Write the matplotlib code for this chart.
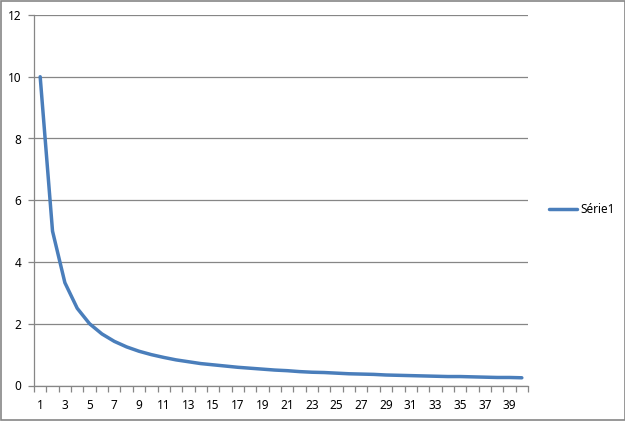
import matplotlib.pyplot as plt
import numpy as np
from matplotlib.patches import Rectangle

# values (categories 1..40)
categories = list(range(1, 41))
serie1 = [10.0, 5.0, 3.33, 2.5, 2.0, 1.67, 1.43, 1.25, 1.11, 1.0,
          0.91, 0.83, 0.77, 0.71, 0.67, 0.63, 0.59, 0.56, 0.53, 0.5,
          0.48, 0.45, 0.43, 0.42, 0.4, 0.38, 0.37, 0.36, 0.34, 0.33,
          0.32, 0.31, 0.3, 0.29, 0.29, 0.28, 0.27, 0.26, 0.26, 0.25]
series_name = 'Série1'
y_ticks = [0, 2, 4, 6, 8, 10, 12]
x_labels = [c for c in categories if c % 2 == 1]

plt.rcParams['font.family'] = ['Noto Sans', 'DejaVu Sans']
plt.rcParams['font.size'] = 8.5

fig = plt.figure(figsize=(6.25, 4.21), dpi=100)
ax = fig.add_axes([34 / 625, 35.5 / 421, 494 / 625, 370.5 / 421])

grey = '#868686'
ax.plot(categories, serie1, color='#4A7EBB', lw=2.5, label=series_name,
        solid_capstyle='round', solid_joinstyle='round')

ax.set_xlim(0.5, 40.5)
ax.set_ylim(0, 12)
ax.set_yticks(y_ticks)
ax.yaxis.grid(True, color=grey, lw=0.9)
ax.set_axisbelow(True)

ax.set_xticks(x_labels)
ax.set_xticks(np.arange(0.5, 41, 1), minor=True)
ax.tick_params(axis='x', which='major', length=0, pad=10)
ax.tick_params(axis='x', which='minor', length=4, color=grey, width=0.9)
ax.tick_params(axis='y', length=4, color=grey, width=0.9, pad=5)

for s in ['top', 'right']:
    ax.spines[s].set_visible(False)
for s in ['left', 'bottom']:
    ax.spines[s].set_color(grey)
    ax.spines[s].set_linewidth(0.9)

ax.legend(loc='center left', bbox_to_anchor=(1.02, 0.475), frameon=False,
          handlelength=2.4, handletextpad=0.3, fontsize=8.5)

fig.patches.append(Rectangle((0.0008, 0.0012), 0.9984, 0.9976, transform=fig.transFigure,
                             fill=False, edgecolor=grey, lw=1.2))

fig.savefig('out.png', dpi=100)
